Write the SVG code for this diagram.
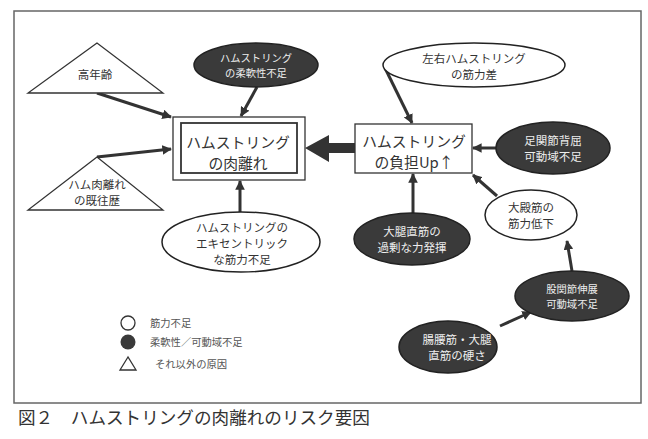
<svg xmlns="http://www.w3.org/2000/svg" width="648" height="439" viewBox="0 0 648 439">
<defs>
<style>
text{font-family:"Noto Sans CJK JP","Noto Sans",sans-serif;fill:#333;text-anchor:middle}
.s{font-size:11.5px}
.t{font-size:10.3px}
.b{font-size:14.8px}
.w{fill:#eee}
.dk{fill:#3a3a3a;stroke:#222;stroke-width:1.5}
.wt{fill:#fff;stroke:#222;stroke-width:1.5}
.ln{stroke:#333;stroke-width:3;fill:none;marker-end:url(#ah)}
.lg{font-size:10.3px;text-anchor:start;fill:#555}
</style>
<marker id="ah" viewBox="0 0 10 10" refX="9" refY="5" markerWidth="3.2" markerHeight="3.2" orient="auto" markerUnits="strokeWidth">
<path d="M0,0 L10,5 L0,10 z" fill="#333"/>
</marker>
</defs>
<rect width="648" height="439" fill="#fff"/>
<rect x="14" y="11" width="627" height="392" fill="none" stroke="#666" stroke-width="1.5"/>

<g id="connectors">
<line class="ln" x1="97" y1="93" x2="171" y2="117"/>
<line class="ln" x1="97" y1="157" x2="171" y2="149"/>
<line class="ln" x1="257" y1="87" x2="241" y2="116"/>
<line class="ln" x1="240" y1="212" x2="240" y2="181"/>
<path d="M305,148 L329,135 L329,143 L355,143 L355,153 L329,153 L329,162 Z" fill="#333"/>
<line class="ln" x1="385" y1="68" x2="412" y2="123"/>
<line class="ln" x1="496" y1="148" x2="473" y2="148"/>
<line class="ln" x1="413" y1="213" x2="413" y2="174"/>
<line class="ln" x1="497" y1="196" x2="473" y2="175"/>
<line class="ln" x1="572" y1="271" x2="567" y2="241"/>
<line class="ln" x1="500" y1="326" x2="531" y2="312"/>
</g>

<g id="n-age">
<polygon points="97,43 28,93 163,93" fill="#fff" stroke="#333" stroke-width="1.3"/>
<text class="s" x="95" y="79">高年齢</text>
</g>
<g id="n-history">
<polygon points="97,157 28,210 163,210" fill="#fff" stroke="#333" stroke-width="1.3"/>
<text class="s" x="97" y="189">ハム肉離れ</text>
<text class="s" x="97" y="205">の既往歴</text>
</g>
<g id="n-flex">
<ellipse class="dk" cx="256" cy="65" rx="62" ry="22"/>
<text class="t w" x="256" y="62">ハムストリング</text>
<text class="t w" x="256" y="77">の柔軟性不足</text>
</g>
<g id="n-main">
<rect x="173" y="117" width="132" height="63" fill="#fff" stroke="#333" stroke-width="1.3"/>
<rect x="181" y="123" width="116" height="50" fill="#fff" stroke="#333" stroke-width="1.8"/>
<text class="b" x="238" y="148">ハムストリング</text>
<text class="b" x="238" y="169">の肉離れ</text>
</g>
<g id="n-ecc">
<ellipse class="wt" cx="241" cy="242" rx="79" ry="30"/>
<text class="s" x="242" y="232">ハムストリングの</text>
<text class="s" x="242" y="248">エキセントリック</text>
<text class="s" x="242" y="264">な筋力不足</text>
</g>
<g id="n-load">
<rect x="355" y="124" width="117" height="49" fill="#fff" stroke="#333" stroke-width="1.3"/>
<text class="b" x="414" y="147">ハムストリング</text>
<text class="b" x="414" y="168">の負担Up↑</text>
</g>
<g id="n-lr">
<ellipse class="wt" cx="474" cy="65" rx="91" ry="22"/>
<text class="s" x="474" y="63">左右ハムストリング</text>
<text class="s" x="474" y="79">の筋力差</text>
</g>
<g id="n-ankle">
<ellipse class="dk" cx="553" cy="148" rx="57" ry="26"/>
<text class="s w" x="553" y="145">足関節背屈</text>
<text class="s w" x="553" y="161">可動域不足</text>
</g>
<g id="n-rectus">
<ellipse class="dk" cx="412" cy="239" rx="58" ry="26"/>
<text class="s w" x="412" y="236">大腿直筋の</text>
<text class="s w" x="412" y="252">過剰な力発揮</text>
</g>
<g id="n-glute">
<ellipse class="wt" cx="531" cy="215" rx="46" ry="25"/>
<text class="s" x="531" y="212">大殿筋の</text>
<text class="s" x="531" y="228">筋力低下</text>
</g>
<g id="n-hip">
<ellipse class="dk" cx="572" cy="296" rx="57" ry="25"/>
<text class="t w" x="572" y="293">股関節伸展</text>
<text class="t w" x="572" y="308">可動域不足</text>
</g>
<g id="n-ilio">
<ellipse class="dk" cx="448" cy="347" rx="49" ry="26"/>
<text class="s w" x="457" y="344">腸腰筋・大腿</text>
<text class="s w" x="457" y="360">直筋の硬さ</text>
</g>

<g id="legend">
<circle cx="128" cy="323" r="7" fill="#fff" stroke="#333" stroke-width="1.3"/>
<circle cx="128" cy="342" r="7.5" fill="#3a3a3a"/>
<polygon points="128,357 120,370 136,370" fill="#fff" stroke="#333" stroke-width="1.3"/>
<text class="lg" x="150" y="327">筋力不足</text>
<text class="lg" x="150" y="346">柔軟性／可動域不足</text>
<text class="lg" x="155" y="368">それ以外の原因</text>
</g>

<text x="18" y="424" style="font-size:17.6px;text-anchor:start">図２　ハムストリングの肉離れのリスク要因</text>
</svg>
